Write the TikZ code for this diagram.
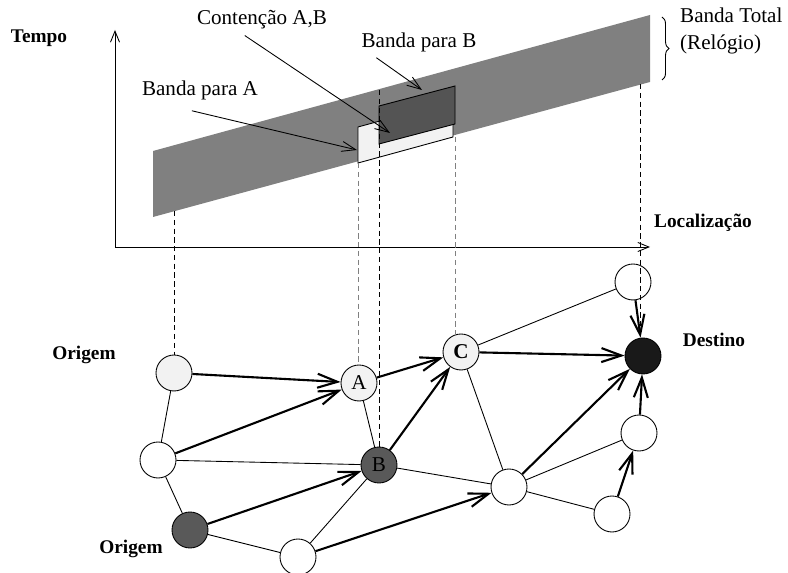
\documentclass[tikz,border=0pt]{standalone}
\usepackage{fontspec}
\setmainfont{Liberation Serif}
\usepackage{tikz}
\usetikzlibrary{arrows.meta,decorations.pathreplacing}

\begin{document}
\begin{tikzpicture}[
    x=0.02cm, y=-0.02cm,
    site/.style={circle, draw, line width=0.5pt, minimum size=0.72cm, inner sep=0pt, font=\fontsize{12}{14}\selectfont},
    lbl/.style={font=\fontsize{12}{15.3}\selectfont},
    axlbl/.style={font=\fontsize{11}{13}\selectfont\bfseries},
    link/.style={line width=0.5pt},
    route/.style={-{Straight Barb[length=4mm,width=2.8mm]}, line width=1.2pt},
    pointer/.style={-{Straight Barb[length=2.8mm,width=2mm]}, line width=0.5pt},
    axis/.style={-{Straight Barb[length=2.2mm,width=1.8mm]}, line width=0.5pt},
    proj/.style={line width=0.5pt, dash pattern=on 3pt off 2pt}
  ]
    \useasboundingbox (0,0) rectangle (788,573);

    % eixos
    \coordinate (orig) at (115,247);
    \draw[axis] (orig) -- (115,30);
    \draw[axis] (orig) -- (650,247);
    \node[axlbl] (tempo) at (39,38) {Tempo};
    \node[axlbl] (local) at (703,223) {Localização};

    % bandas
    \fill[gray] (153,151) -- (650,15) -- (650,82) -- (153,217) -- cycle;
    \filldraw[fill=gray!10, line width=0.5pt] (358,127) -- (453,101) -- (453,137) -- (358,163) -- cycle;
    \filldraw[fill=black!67, line width=0.5pt] (379,106) -- (455,86) -- (455,124) -- (379,144) -- cycle;
    \draw[decorate, decoration={brace, amplitude=4pt}, line width=0.5pt] (662,17) -- (662,80);
    \node[lbl, anchor=west, align=left] (total) at (674,31) {Banda Total\\(Relógio)};

    % rotulos das bandas
    \node[lbl] (cont) at (262,20) {Contenção A,B};
    \node[lbl] (bandB) at (419,42) {Banda para B};
    \node[lbl] (bandA) at (200,90) {Banda para A};
    \coordinate (contTip) at (390,133);
    \coordinate (bandBTip) at (422,90);
    \coordinate (bandATip) at (357,150);
    \draw[pointer] ([xshift=1.08cm]cont.south west) -- (contTip);
    \draw[pointer] ([xshift=0.42cm]bandB.south west) -- (bandBTip);
    \draw[pointer] ([xshift=1.12cm, yshift=-0.1cm]bandA.south west) -- (bandATip);

    % rede
    \node[site, fill=gray!10] (src1) at (174,373) {};
    \node[site, fill=gray!10] (a) at (359,383) {A};
    \node[site] (w1) at (158,460) {};
    \node[site, fill=black!65] (b) at (379,465) {B};
    \node[site, fill=black!65] (src2) at (190,530) {};
    \node[site] (w2) at (298,557) {};
    \node[site, fill=gray!10] (c) at (461,352) {\textbf{C}};
    \node[site] (t) at (633,282) {};
    \node[site, fill=black!90] (dst) at (643,356) {};
    \node[site] (m) at (509,487) {};
    \node[site] (r1) at (639,433) {};
    \node[site] (r2) at (612,514) {};

    \node[axlbl] (lblSrc1) at (84,355) {Origem};
    \node[axlbl] (lblSrc2) at (131,549) {Origem};
    \node[axlbl] (lblDst) at (714,340) {Destino};

    % projecoes
    \coordinate (p1) at (174,211);
    \coordinate (p2) at (358,163);
    \coordinate (p3) at (379,90);
    \coordinate (p4) at (455,137);
    \coordinate (p5) at (640,84);
    \draw[proj] (p1) -- (src1.north);
    \draw[proj, gray] (p2) -- (p2 |- a.north);
    \draw[proj] (p3) -- (b.north);
    \draw[proj, gray] (p4) -- (455,335);
    \draw[proj] (p5) -- (640,338);

    % ligacoes
    \draw[link] (src1) -- (w1);
    \draw[link] (w1) -- (src2);
    \draw[link] (w1) -- (b);
    \draw[link] (a) -- (b);
    \draw[link] (src2) -- (w2);
    \draw[link] (w2) -- (b);
    \draw[link] (b) -- (m);
    \draw[link] (c) -- (m);
    \draw[link] (c) -- (t);
    \draw[link] (m) -- (r1);
    \draw[link] (m) -- (r2);

    % caminhos
    \draw[route] (src1) -- (a);
    \draw[route] (w1) -- (a);
    \draw[route] (a) -- (c);
    \draw[route] (b) -- (c);
    \draw[route] (c) -- (dst);
    \draw[route] (src2) -- (b);
    \draw[route] (w2) -- (m);
    \draw[route] (m) -- (dst);
    \draw[route] (r1) -- (dst);
    \draw[route] (r2) -- (r1);
    \draw[route] (t) -- (dst);
\end{tikzpicture}
\end{document}
